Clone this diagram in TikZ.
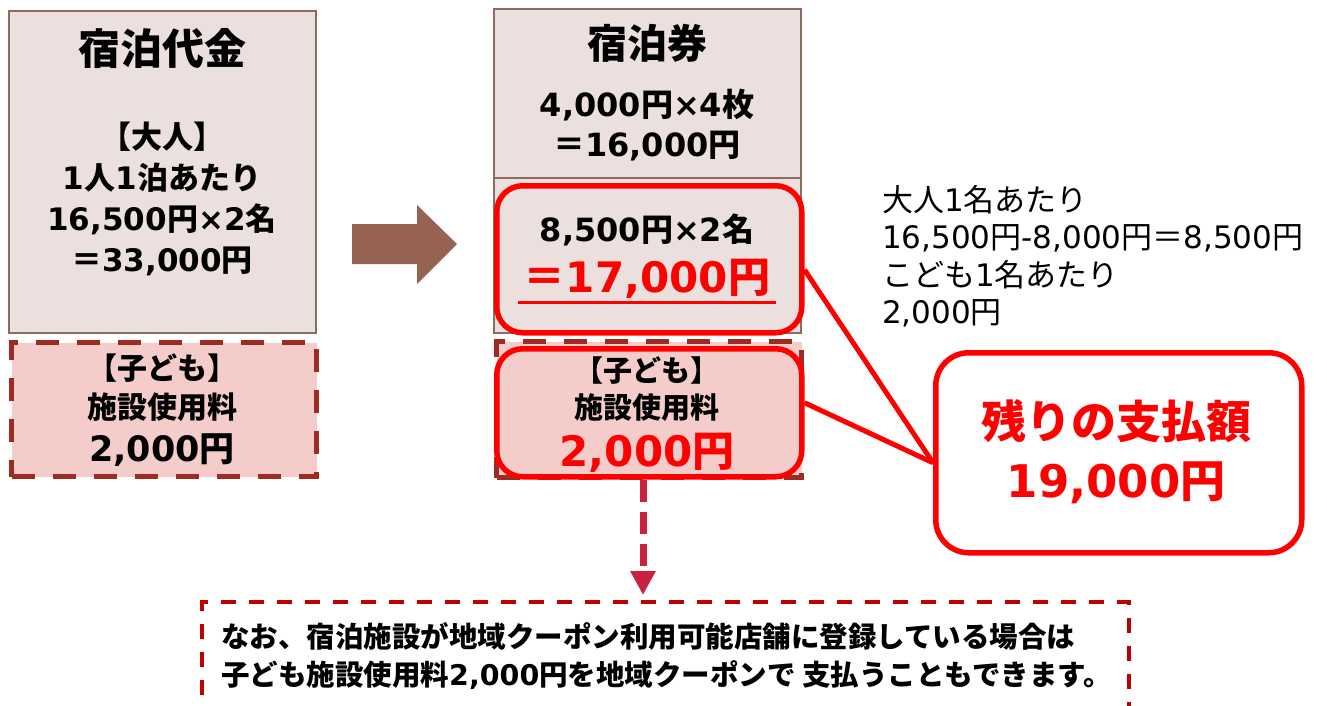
\documentclass[tikz,border=0pt]{standalone}
\usepackage{fontspec}
\setmainfont{DejaVu Sans}
\newfontfamily\jpfam{Noto Sans CJK JP}
\newfontfamily\latfam{DejaVu Sans}
\usepackage{xcolor}
\usetikzlibrary{arrows.meta}
% Japanese characters in Noto, digits and Latin in DejaVu
\newXeTeXintercharclass\jpclass
\makeatletter
\count@="3000
\loop\ifnum\count@<"A000 \XeTeXcharclass\count@=\jpclass \advance\count@ 1 \repeat
\count@="FF00
\loop\ifnum\count@<"FFF0 \XeTeXcharclass\count@=\jpclass \advance\count@ 1 \repeat
\makeatother
\XeTeXinterchartoks 0 \jpclass = {\jpfam}
\XeTeXinterchartoks 4095 \jpclass = {\jpfam}
\XeTeXinterchartoks \jpclass 0 = {\latfam}
\XeTeXinterchartokenstate=1
\definecolor{boxgray}{HTML}{EBE0DD}
\definecolor{boxbrown}{HTML}{8E6A62}
\definecolor{kidpink}{HTML}{F4CCC9}
\definecolor{kidred}{HTML}{9E2B21}
\definecolor{arrowbrown}{HTML}{966352}
\definecolor{droprose}{HTML}{C9213F}
\definecolor{notered}{HTML}{C00000}
\newcommand{\fsz}[2]{\fontsize{#1}{#2}\selectfont}
\tikzset{
  feebox/.style={draw=boxbrown, fill=boxgray, line width=1.6pt,
    minimum width=307pt, inner sep=0pt, anchor=north west},
  kidbox/.style={draw=kidred, fill=kidpink, line width=5pt,
    dash pattern=on 23pt off 18pt, minimum width=305pt, inner sep=0pt,
    anchor=north west},
  redbox/.style={draw=red, line width=5.5pt, rounded corners=26pt,
    minimum width=305pt, inner sep=0pt, anchor=north west},
  redline/.style={draw=red, line width=5pt},
  txt/.style={align=center, inner sep=0pt, text=black}
  }

\begin{document}
\begin{tikzpicture}[x=1pt, y=-1pt]
  \useasboundingbox (0,0) rectangle (1327,705);
  % left column
  \node[feebox, minimum height=322pt] (fee) at (8,10) {};
  \node[kidbox, minimum height=134pt] (kidl) at (9,340) {};
  \node[txt, font=\fsz{42}{44}\bfseries] (feetitle) at (162,48) {宿泊代金};
  \node[txt, font=\fsz{31}{41}\bfseries] (feeadult) at (162,199)
    {【大人】\\1人1泊あたり\\16,500円×2名\\＝33,000円};
  \node[txt, font=\fsz{30}{39}\bfseries] (feekid) at (162,388)
    {【子ども】\\施設使用料};
  \node[txt, font=\fsz{35}{40}\bfseries] (feekidsum) at (162,450) {2,000円};
  % arrow
  \fill[arrowbrown] (352,224) -- (417,224) -- (417,205) -- (457,244)
    -- (417,284) -- (417,264) -- (352,264) -- cycle;
  % middle column
  \node[feebox, minimum height=169pt] (tix) at (493,8) {};
  \node[feebox, minimum height=155pt] (tixrest) at (493,177) {};
  \node[kidbox, minimum height=136pt] (kidm) at (494,339) {};
  \node[redbox, minimum height=147pt] (adult) at (494,183) {};
  \node[redbox, minimum height=128pt] (kidr) at (494,346) {};
  \node[txt, font=\fsz{40}{40}\bfseries] (tixtitle) at (647,43) {宿泊券};
  \node[txt, font=\fsz{32}{40}\bfseries] (tixcalc) at (647,125)
    {4,000円×4枚\\＝16,000円};
  \node[txt, font=\fsz{32}{40}\bfseries] (adultcalc) at (647,230) {8,500円×2名};
  \node[txt, font=\fsz{42}{44}\bfseries, text=red, inner xsep=6pt,
    inner ysep=4pt] (adultsum) at (647,279) {＝17,000円};
  \draw[red, line width=3pt] (adultsum.south west) -- (adultsum.south east);
  \node[txt, font=\fsz{29}{37}\bfseries] (kidcalc) at (647,389)
    {【子ども】\\施設使用料};
  \node[txt, font=\fsz{42}{46}\bfseries, text=red] (kidsum) at (647,453) {2,000円};
  % right side
  \node[txt, align=left, anchor=west, font=\fsz{31}{37.5}] (detail) at (882,256)
    {大人1名あたり\\16,500円-8,000円＝8,500円\\こども1名あたり\\2,000円};
  \node[redbox, fill=white, rounded corners=33pt, minimum width=366pt,
    minimum height=200pt] (pay) at (933,350) {};
  \node[txt, font=\fsz{45}{59}\bfseries, text=red] (paytext) at (1116,452)
    {残りの支払額\\19,000円};
  \draw[redline] ([yshift=-10.5pt]adult.east) -- ([yshift=-10pt]pay.west);
  \draw[redline] ([yshift=10pt]kidr.east) -- ([yshift=-10pt]pay.west);
  % note below
  \node[draw=notered, line width=3.5pt, dash pattern=on 15pt off 13pt,
    minimum width=927pt, minimum height=140pt, anchor=north west] (note)
    at (200,600) {};
  \node[txt, align=left, anchor=west, font=\fsz{28.5}{38}\bfseries] (notetext)
    at (221,656)
    {なお、宿泊施設が地域クーポン利用可能店舗に登録している場合は\\
     子ども施設使用料2,000円を地域クーポンで 支払うこともできます。};
  \coordinate (drop) at (643,595);
  \draw[droprose, line width=7pt, dash pattern=on 22pt off 10pt,
    -{Triangle[width=24pt, length=24pt]}] (kidr.south -| drop) -- (drop);
\end{tikzpicture}
\end{document}
